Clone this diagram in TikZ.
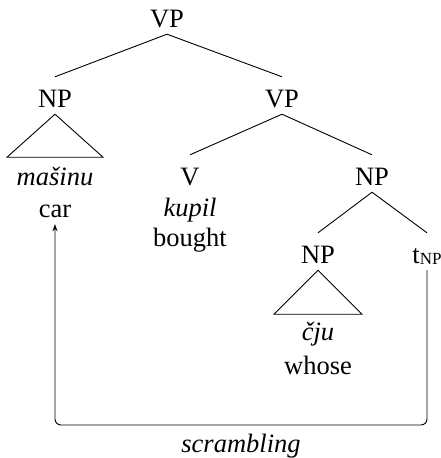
\documentclass[tikz,border=0pt]{standalone}
\usepackage{fontspec}
\setmainfont{Liberation Serif}
\usepackage{tikz}
\usetikzlibrary{arrows.meta,positioning}

\begin{document}
\begin{tikzpicture}[
        x=1pt, y=-1pt, font=\fontsize{26.5}{32}\selectfont,
        every node/.style={anchor=base, inner xsep=0pt},
        cat/.style={text height=23pt, text depth=0pt, inner ysep=7pt},
        word/.style={cat},
        branch/.style={line width=0.9pt},
        move/.style={line width=0.9pt, rounded corners=6pt, -{Stealth[length=7pt,width=5pt]}}]

    \useasboundingbox (0,0) rectangle (441,458);

    % categories
    \node[cat] (vp0) at (167,27) {VP};
    \node[cat] (np1) at (55,107) {NP};
    \node[cat] (vp1) at (282,107) {VP};
    \node[cat] (v) at (190,185) {V};
    \node[cat] (np2) at (372,185) {NP};
    \node[cat] (np3) at (318,263) {NP};
    \node[cat] (tnp) at (427,263) {t\raisebox{-1.5pt}{\fontsize{17}{17}\selectfont NP}};

    % words
    \node[word] (masinu) at (55,185) {\textit{mašinu}};
    \node[word] (car) at (55,217) {car};
    \node[word] (kupil) at (190,216) {\textit{kupil}};
    \node[word] (bought) at (190,246) {bought};
    \node[word] (cju) at (318,340) {\textit{čju}};
    \node[word] (whose) at (318,374) {whose};

    \draw[branch] (vp0.south) -- (np1.north);
    \draw[branch] (vp0.south) -- (vp1.north);
    \draw[branch] (vp1.south) -- (v.north);
    \draw[branch] (vp1.south) -- (np2.north);
    \draw[branch] (np2.south) -- (np3.north);
    \draw[branch] (np2.south) -- (tnp.north);

    % roofs
    \draw[branch] (np1.south) -- ++(-48,43) -- ++(96,0) -- cycle;
    \draw[branch] (np3.south) -- ++(-44,44) -- ++(88,0) -- cycle;

    \coordinate (bend) at (427,425);
    \draw[move] (tnp.south) -- (bend) -| node[pos=0.25, below=5pt] {\textit{scrambling}} (car.south);
\end{tikzpicture}
\end{document}
